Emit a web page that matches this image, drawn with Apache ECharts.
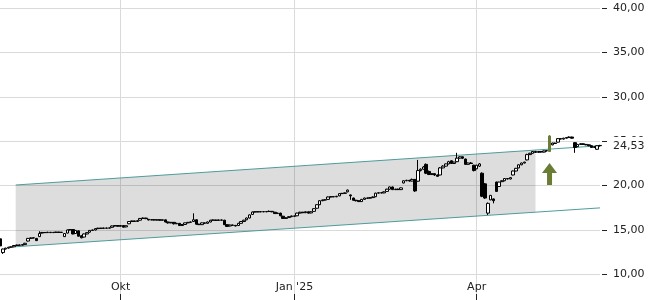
<!DOCTYPE html>
<html><head><meta charset="utf-8">
<script src="https://cdn.jsdelivr.net/npm/echarts@6/dist/echarts.min.js"></script>
<style>html,body{margin:0;padding:0;background:#fff}#c{width:650px;height:300px}</style>
</head><body><div id="c"></div>
<script>
// [open, close, low, high] per trading day
const candles = [
[14.0,13.2,13.1,14.3],[12.45,12.85,12.3,12.9],[12.85,12.95,12.8,13.0],[12.95,13.05,12.9,13.1],[13.05,13.1,13.0,13.15],
[13.1,13.25,13.05,13.3],[13.25,13.3,13.2,13.35],[13.3,13.28,13.22,13.35],[13.28,13.35,13.25,13.4],[13.35,13.5,13.3,13.55],
[13.75,14.05,13.7,14.1],[14.05,14.1,14.0,14.15],[14.1,14.12,14.05,14.18],[14.05,13.8,13.75,14.1],[14.25,14.6,14.2,14.85],
[14.65,14.72,14.6,14.78],[14.72,14.7,14.65,14.76],[14.7,14.74,14.66,14.8],[14.74,14.7,14.66,14.78],[14.7,14.73,14.67,14.78],
[14.73,14.76,14.7,14.8],[14.76,14.72,14.68,14.8],[14.72,14.74,14.68,14.78],[14.25,14.6,14.2,14.65],[14.65,15.0,14.6,15.05],
[15.0,15.05,14.95,15.1],[15.05,14.55,14.5,15.1],[14.6,14.95,14.55,15.0],[14.9,14.3,14.25,14.95],[14.35,14.12,14.05,14.4],
[14.2,14.55,14.15,14.6],[14.55,14.7,14.5,14.75],[14.75,14.95,14.7,15.0],[14.95,15.0,14.9,15.05],[15.0,15.15,14.95,15.2],
[15.15,15.2,15.1,15.25],[15.2,15.18,15.12,15.24],[15.18,15.22,15.14,15.26],[15.22,15.2,15.15,15.26],[15.2,15.24,15.16,15.28],
[15.3,15.45,15.25,15.5],[15.45,15.5,15.4,15.56],[15.5,15.42,15.38,15.55],[15.42,15.5,15.38,15.56],[15.5,15.32,15.28,15.54],
[15.35,15.48,15.3,15.52],[15.7,15.95,15.65,16.0],[15.95,16.02,15.9,16.06],[16.02,15.96,15.92,16.05],[15.96,16.05,15.92,16.1],
[16.1,16.3,16.05,16.35],[16.3,16.34,16.26,16.4],[16.34,16.28,16.22,16.38],[16.2,16.13,16.08,16.22],[16.13,16.16,16.1,16.2],
[16.16,16.12,16.08,16.2],[16.12,16.15,16.08,16.19],[16.15,16.1,16.06,16.18],[16.1,16.14,16.06,16.18],[16.14,15.9,15.86,16.18],
[15.9,15.8,15.72,15.94],[15.8,15.86,15.76,15.9],[15.86,15.7,15.62,15.9],[15.7,15.75,15.66,15.8],[15.75,15.5,15.45,15.78],
[15.5,15.62,15.45,15.66],[15.62,15.8,15.58,15.84],[15.8,15.86,15.76,15.9],[15.86,15.9,15.82,15.95],[15.95,16.15,15.9,16.88],
[16.15,15.65,15.6,16.2],[15.65,15.6,15.55,15.7],[15.6,15.8,15.56,15.85],[15.8,15.75,15.7,15.84],[15.75,15.9,15.7,15.95],
[15.9,16.1,15.86,16.14],[16.1,16.12,16.05,16.18],[16.12,16.08,16.02,16.16],[16.08,16.13,16.04,16.18],[16.13,16.1,16.05,16.17],
[16.1,15.6,15.55,16.15],[15.6,15.4,15.36,15.65],[15.45,15.56,15.4,15.6],[15.56,15.52,15.48,15.6],[15.52,15.45,15.4,15.56],
[15.5,15.75,15.45,15.8],[15.75,15.95,15.7,16.0],[15.95,16.1,15.9,16.15],[16.15,16.35,16.1,16.4],[16.35,16.7,16.3,16.75],
[16.75,17.02,16.7,17.08],[17.02,17.06,16.98,17.1],[17.06,17.04,17.0,17.1],[17.04,17.07,17.0,17.12],[17.07,17.05,17.0,17.1],
[17.05,17.08,17.0,17.12],[17.08,17.1,17.03,17.2],[17.1,17.05,17.0,17.14],[17.0,16.85,16.8,17.04],[16.85,16.9,16.8,16.95],
[16.9,16.6,16.55,16.94],[16.55,16.3,16.25,16.6],[16.3,16.38,16.25,16.42],[16.4,16.5,16.36,16.55],[16.5,16.58,16.45,16.62],
[16.58,16.55,16.5,16.62],[16.6,16.9,16.55,16.95],[16.9,17.0,16.86,17.05],[17.0,16.95,16.9,17.04],[16.95,17.05,16.9,17.1],
[17.05,16.9,16.85,17.08],[16.92,17.05,16.88,17.1],[17.1,17.4,17.05,17.45],[17.45,17.85,17.4,17.9],[17.85,18.3,17.8,18.35],
[18.3,18.38,18.25,18.42],[18.38,18.4,18.32,18.45],[18.45,18.72,18.4,18.78],[18.72,18.76,18.68,18.8],[18.76,18.74,18.7,18.8],
[18.74,18.8,18.7,18.85],[18.85,19.1,18.8,19.15],[19.1,19.13,19.06,19.18],[19.13,19.18,19.1,19.22],[19.3,19.5,19.25,19.56],
[18.95,18.85,18.4,19.0],[18.6,18.35,18.3,18.65],[18.35,18.3,18.22,18.4],[18.3,18.2,18.15,18.35],[18.2,18.45,18.16,18.5],
[18.45,18.6,18.4,18.65],[18.6,18.58,18.52,18.66],[18.58,18.65,18.54,18.7],[18.65,18.72,18.6,18.78],[18.75,19.15,18.7,19.2],
[19.15,19.2,19.1,19.25],[19.2,19.18,19.12,19.25],[19.18,19.3,19.14,19.35],[19.35,19.6,19.3,19.65],[19.6,19.85,19.55,19.9],
[19.85,19.55,19.5,19.9],[19.55,19.6,19.5,19.65],[19.6,19.55,19.5,19.66],[19.55,19.75,19.5,19.8],[20.3,20.55,20.25,20.6],
[20.55,20.6,20.5,20.66],[20.6,20.52,20.46,20.65],[20.52,20.7,20.48,20.8],[20.7,19.4,19.3,20.75],[20.5,21.7,20.45,22.9],
[21.7,21.85,21.6,21.95],[21.85,22.1,21.8,22.2],[22.4,21.4,21.3,22.5],[21.6,21.25,21.2,21.7],[21.25,21.35,21.2,21.4],
[21.35,21.2,21.1,21.4],[21.2,21.05,21.0,21.25],[21.2,22.0,21.15,22.1],[22.0,22.2,21.95,22.3],[22.2,22.45,22.15,22.5],
[22.45,22.7,22.4,22.8],[22.8,22.5,22.45,22.85],[22.5,22.65,22.45,22.7],[22.7,23.1,22.65,23.7],[23.1,23.25,23.05,23.3],
[23.25,23.1,23.0,23.3],[23.0,22.4,22.35,23.05],[22.4,22.55,22.35,22.6],[22.55,22.5,22.45,22.65],[22.3,21.7,21.6,22.35],
[21.9,22.3,21.85,22.35],[22.2,22.45,22.1,22.55],[21.4,18.8,18.7,21.5],[20.2,18.6,18.5,20.3],[16.9,18.0,16.7,18.1],
[18.4,18.9,18.35,18.95],[18.5,18.3,18.0,18.55],[20.4,19.35,19.3,20.45],[19.9,20.4,19.85,20.45],[20.45,20.55,20.4,20.6],
[20.55,20.8,20.5,20.85],[20.8,20.75,20.7,20.86],[20.75,20.9,20.7,20.95],[21.2,21.65,21.15,21.7],[21.65,21.95,21.6,22.0],
[22.0,22.35,21.95,22.4],[22.35,22.55,22.3,22.6],[22.55,22.65,22.5,22.7],[22.9,23.5,22.85,23.6],[23.5,23.65,23.45,23.7],
[23.65,23.85,23.6,23.9],[23.85,23.75,23.7,23.92],[23.75,23.85,23.7,23.9],[23.85,23.78,23.72,23.9],[23.78,23.92,23.74,23.96],
[23.92,23.95,23.85,24.0],[23.85,25.6,23.8,25.7],[24.6,24.8,24.55,24.85],[24.8,24.75,24.7,24.85],[24.9,25.3,24.85,25.35],
[25.3,25.25,25.2,25.35],[25.25,25.35,25.2,25.4],[25.35,25.42,25.3,25.46],[25.42,25.48,25.38,25.55],[25.48,25.35,25.3,25.52],
[24.85,24.3,23.7,24.9],[24.4,24.65,24.35,24.7],[24.65,24.72,24.6,24.78],[24.72,24.65,24.6,24.76],[24.65,24.6,24.55,24.7],
[24.6,24.5,24.45,24.65],[24.5,24.3,24.25,24.55],[24.3,24.4,24.25,24.45],[24.1,24.5,24.05,24.55],[24.5,24.53,24.4,24.6]
];
const xTickIndex = [43, 105, 170];
const xTickText = ['Okt', "Jan '25", 'Apr'];
const yMin = 10, yMax = 40, yStep = 5;
const channelX = [5.6, 191, 214];
const channelUpper = [20.07, 24.02, 24.50];
const channelLower = [13.11, 17.0, 17.49];
const signalIndex = 196;
const signalArrowLevel = 21.3;

const categories = candles.map((_, i) => String(i));
const lastClose = candles[candles.length - 1][1];
const fmt = v => v.toFixed(2).replace('.', ',');
const FONT = 'DejaVu Sans';
const OLIVE = '#6b7d35';
const TEAL = '#4f9c9c';
const TXT = '#222';
const isTick = idx => xTickIndex.indexOf(idx) >= 0;

const candleData = candles.map((c, i) => i === signalIndex
  ? { value: c, itemStyle: { color: OLIVE, color0: OLIVE, borderColor: OLIVE, borderColor0: OLIVE } }
  : c);

const chart = echarts.init(document.getElementById('c'), null, { renderer: 'canvas' });
chart.setOption({
  animation: false,
  backgroundColor: '#fff',
  grid: [
    { left: 0, right: 50, top: 8.3, height: 266 },
    { left: 0, right: 50, top: 0, bottom: 0 }
  ],
  xAxis: [
    { type: 'category', gridIndex: 0, data: categories, boundaryGap: false, show: false },
    { type: 'category', gridIndex: 1, data: categories, boundaryGap: false,
      axisLine: { show: true, onZero: false, lineStyle: { color: 'rgba(0,0,0,0)' } },
      axisTick: { show: true, inside: true, length: 6, interval: isTick, lineStyle: { color: TXT } },
      axisLabel: { show: true, inside: true, margin: 7, interval: isTick,
        formatter: (v, idx) => xTickText[xTickIndex.indexOf(idx)] || '',
        color: TXT, fontFamily: FONT, fontSize: 11 },
      splitLine: { show: true, interval: isTick, lineStyle: { color: '#dadada', width: 1 } } },
    { type: 'value', gridIndex: 0, min: 0, max: candles.length - 1, show: false,
      axisLine: { onZero: false } }
  ],
  yAxis: [
    { type: 'value', gridIndex: 0, position: 'right', offset: 2, min: yMin, max: yMax, interval: yStep,
      axisLine: { show: true, onZero: false, lineStyle: { color: 'rgba(0,0,0,0)' } },
      axisTick: { show: true, length: 5, lineStyle: { color: TXT, width: 1 } },
      axisLabel: { margin: 11, color: TXT, fontFamily: FONT, fontSize: 11, formatter: v => fmt(v) },
      splitLine: { show: true, lineStyle: { color: '#dadada', width: 1 } } },
    { type: 'value', gridIndex: 1, show: false, min: 0, max: 1, axisLine: { onZero: false } }
  ],
  series: [
    { type: 'custom', xAxisIndex: 2, yAxisIndex: 0, z: 1, silent: true,
      data: [[channelX[0], channelUpper[0]]],
      renderItem: (params, api) => ({
        type: 'polygon',
        shape: { points: [
          api.coord([channelX[0], channelUpper[0]]),
          api.coord([channelX[1], channelUpper[1]]),
          api.coord([channelX[1], channelLower[1]]),
          api.coord([channelX[0], channelLower[0]])
        ] },
        style: { fill: 'rgba(0,0,0,0.135)' }
      }) },
    { type: 'line', xAxisIndex: 2, yAxisIndex: 0, z: 2, symbol: 'none', silent: true,
      data: [[channelX[0], channelUpper[0]], [channelX[2], channelUpper[2]]],
      lineStyle: { color: TEAL, width: 1 } },
    { type: 'line', xAxisIndex: 2, yAxisIndex: 0, z: 2, symbol: 'none', silent: true,
      data: [[channelX[0], channelLower[0]], [channelX[2], channelLower[2]]],
      lineStyle: { color: TEAL, width: 1 } },
    { type: 'candlestick', xAxisIndex: 0, yAxisIndex: 0, zlevel: 1, z: 3, barWidth: 3,
      data: candleData,
      itemStyle: { color: '#fff', color0: '#000', borderColor: '#000', borderColor0: '#000', borderWidth: 1 },
      markLine: { silent: true, symbol: ['none', 'none'], animation: false,
        data: [{ yAxis: lastClose }],
        lineStyle: { color: 'rgba(0,0,0,0)', width: 1 },
        label: { show: true, position: 'end', distance: 11, offset: [0, 0.5], formatter: () => fmt(lastClose),
          color: TXT, fontFamily: FONT, fontSize: 11, backgroundColor: '#fff', padding: [6, 2, 1, 2] } },
      markPoint: { silent: true, animation: false,
        data: [{ coord: [signalIndex, signalArrowLevel],
          symbol: 'path://M7.5,0 L15,10 L10,10 L10,22 L5,22 L5,10 L0,10 Z',
          symbolSize: [15, 22], itemStyle: { color: OLIVE }, label: { show: false } }] } }
  ]
});
</script>
</body></html>
